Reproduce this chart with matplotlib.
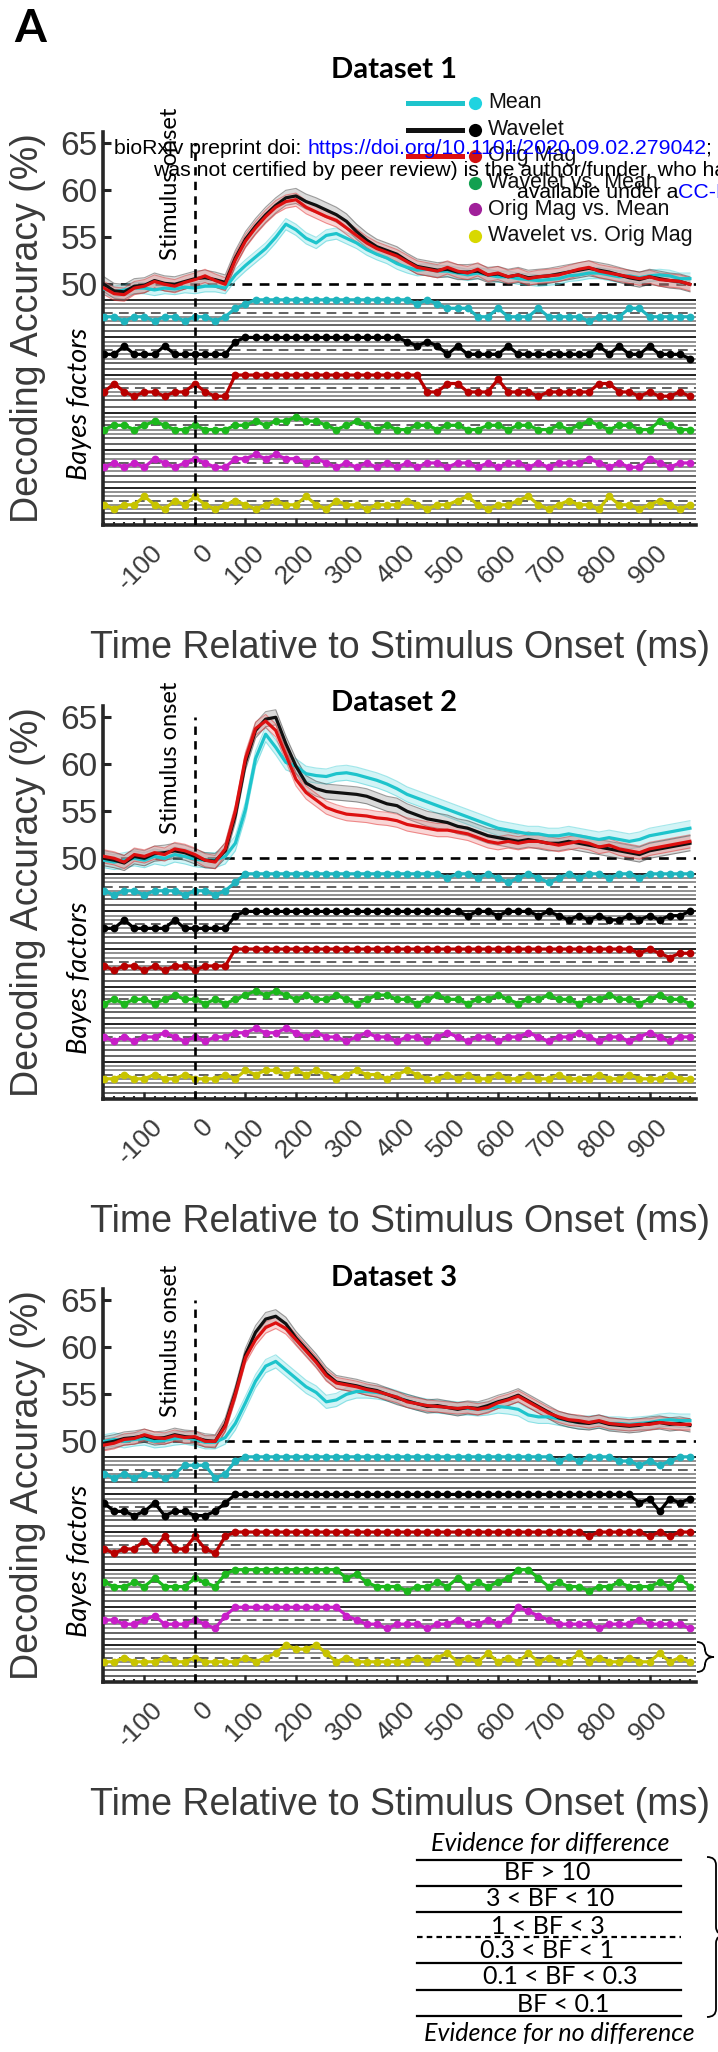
import numpy as np
import matplotlib
matplotlib.use('Agg')
import matplotlib.pyplot as plt
import matplotlib.transforms as mtransforms
from matplotlib.lines import Line2D
from matplotlib.path import Path
from matplotlib.patches import PathPatch

plt.rcParams['font.family'] = ['Liberation Sans', 'DejaVu Sans']
plt.rcParams['lines.scale_dashes'] = False

# ---------------- data ----------------
time_ms = np.arange(-180, 981, 20)          # 59 time points
xtick_vals = list(range(-100, 901, 100))
xtick_labels = [str(v) for v in xtick_vals]
ytick_vals = [50, 55, 60, 65]
titles = ['Dataset 1', 'Dataset 2', 'Dataset 3']
series_names = ['Mean', 'Wavelet', 'Orig Mag']
bf_names = ['Mean', 'Wavelet', 'Orig Mag', 'Wavelet vs. Mean', 'Orig Mag vs. Mean', 'Wavelet vs. Orig Mag']

# Dataset 1 decoding accuracy (%)
d1_mean = [49.5, 49.2, 49.4, 49.6, 49.6, 49.4, 49.6, 49.5, 49.7, 49.6,
           49.8, 49.8, 49.6, 51.0, 52.0, 52.9, 53.8, 55.0, 56.4, 55.8,
           54.9, 54.4, 55.2, 55.4, 54.9, 54.4, 53.7, 53.2, 52.8, 52.2,
           51.8, 51.5, 51.6, 51.4, 51.4, 51.2, 51.0, 51.2, 51.0, 50.8,
           50.8, 50.6, 50.5, 50.4, 50.5, 50.6, 50.9, 51.0, 51.2, 51.2,
           51.0, 50.8, 50.9, 50.7, 50.9, 51.0, 50.9, 50.6, 50.6]
d1_wavelet = [50.0, 49.3, 49.2, 49.8, 49.9, 50.4, 50.1, 50.0, 50.3, 50.6,
              50.7, 50.5, 50.2, 52.8, 54.8, 56.2, 57.4, 58.4, 59.2, 59.4,
              58.8, 58.4, 57.9, 57.4, 56.7, 55.6, 54.7, 54.0, 53.6, 53.2,
              52.5, 51.9, 51.7, 51.5, 51.6, 51.3, 51.3, 51.4, 51.0, 51.1,
              50.8, 51.0, 50.7, 50.8, 50.9, 51.1, 51.3, 51.5, 51.7, 51.5,
              51.3, 51.0, 50.7, 50.5, 50.8, 50.6, 50.4, 50.3, 50.0]
d1_origmag = [49.6, 49.0, 48.9, 49.6, 49.8, 50.3, 50.0, 49.8, 50.2, 50.5,
              50.9, 50.4, 50.0, 52.6, 54.6, 56.0, 57.2, 58.2, 58.8, 59.0,
              58.2, 57.7, 57.2, 56.8, 56.0, 55.2, 54.4, 53.8, 53.4, 53.0,
              52.4, 51.8, 51.6, 51.4, 51.8, 51.4, 51.2, 51.6, 51.0, 51.2,
              50.8, 51.0, 50.6, 50.8, 50.9, 51.0, 51.3, 51.6, 51.8, 51.4,
              51.2, 51.0, 50.8, 50.6, 50.8, 50.5, 50.4, 50.3, 50.0]
d1_sem = [0.6, 0.8, 0.7]

# Dataset 2
d2_mean = [49.8, 49.6, 49.8, 50.0, 49.8, 50.2, 50.0, 50.4, 50.2, 49.9,
           49.8, 49.8, 50.2, 51.6, 55.2, 60.6, 63.2, 61.8, 60.2, 59.8,
           59.0, 58.8, 58.7, 59.0, 59.1, 58.9, 58.6, 58.3, 57.9, 57.4,
           56.8, 56.4, 56.0, 55.6, 55.2, 54.8, 54.4, 54.0, 53.6, 53.2,
           53.0, 52.8, 52.6, 52.6, 52.4, 52.4, 52.6, 52.4, 52.2, 52.0,
           52.2, 52.0, 51.8, 52.0, 52.4, 52.6, 52.8, 53.0, 53.2]
d2_wavelet = [50.0, 49.8, 49.5, 50.2, 50.0, 50.5, 50.6, 50.8, 50.6, 50.2,
              49.8, 49.7, 50.8, 54.6, 60.2, 63.6, 64.8, 65.0, 62.2, 59.8,
              58.0, 57.4, 57.1, 57.0, 56.9, 56.8, 56.6, 56.2, 55.8, 55.6,
              55.0, 54.6, 54.2, 54.0, 53.8, 53.4, 53.2, 52.8, 52.4, 52.2,
              52.0, 51.8, 52.0, 51.8, 51.6, 51.6, 51.8, 51.6, 51.4, 51.2,
              51.0, 50.8, 50.6, 50.4, 50.8, 51.0, 51.2, 51.4, 51.6]
d2_origmag = [50.2, 50.0, 49.6, 50.4, 50.2, 50.6, 50.4, 51.0, 50.8, 50.4,
              49.8, 49.6, 51.0, 55.0, 60.6, 63.8, 64.6, 63.6, 61.0, 58.4,
              57.0, 56.2, 55.4, 55.0, 54.7, 54.6, 54.5, 54.3, 54.2, 54.0,
              53.6, 53.4, 53.2, 53.0, 53.0, 52.8, 52.6, 52.2, 51.8, 51.6,
              51.8, 51.6, 51.8, 51.8, 51.6, 51.4, 51.6, 51.8, 51.6, 51.2,
              51.4, 51.0, 50.8, 50.6, 51.0, 51.2, 51.4, 51.6, 51.8]
d2_sem = [0.8, 0.8, 0.7]

# Dataset 3
d3_mean = [50.0, 50.2, 50.0, 50.2, 50.3, 50.0, 50.1, 50.3, 50.4, 50.2,
           49.9, 49.9, 50.4, 51.9, 54.1, 56.4, 58.0, 58.5, 57.6, 56.7,
           55.8, 55.2, 54.2, 54.4, 55.0, 55.3, 55.3, 55.2, 55.0, 54.7,
           54.3, 54.0, 53.8, 53.7, 53.6, 53.5, 53.5, 53.4, 53.5, 53.7,
           53.6, 53.4, 52.8, 52.6, 52.6, 52.4, 52.2, 52.0, 52.0, 52.1,
           51.9, 51.9, 51.8, 51.9, 52.0, 52.2, 52.3, 52.2, 52.2]
d3_wavelet = [49.8, 50.0, 50.3, 50.4, 50.6, 50.3, 50.4, 50.7, 50.5, 50.4,
              50.1, 50.0, 51.8, 55.2, 59.2, 61.6, 63.0, 63.3, 62.5, 61.0,
              59.8, 58.6, 57.2, 56.3, 56.1, 55.9, 55.6, 55.4, 55.0, 54.6,
              54.3, 54.0, 53.7, 53.8, 53.6, 53.4, 53.6, 53.5, 53.8, 54.2,
              54.5, 54.9, 54.3, 53.7, 53.1, 52.5, 52.2, 52.0, 51.9, 52.1,
              51.8, 51.7, 51.6, 51.7, 51.9, 52.0, 51.8, 51.9, 51.7]
d3_origmag = [49.6, 49.8, 50.2, 50.3, 50.7, 50.4, 50.3, 50.6, 50.4, 50.5,
              50.0, 50.0, 51.6, 55.0, 58.9, 60.8, 62.1, 62.6, 62.0, 60.8,
              59.6, 58.4, 57.0, 56.2, 56.0, 55.8, 55.5, 55.3, 55.0, 54.7,
              54.2, 54.0, 53.8, 53.7, 53.6, 53.5, 53.6, 53.4, 53.6, 54.1,
              54.4, 54.8, 54.2, 53.6, 53.0, 52.6, 52.3, 52.2, 52.0, 52.2,
              51.9, 51.8, 51.7, 51.8, 51.8, 52.0, 51.9, 51.8, 51.8]
d3_sem = [0.7, 0.7, 0.6]

# Bayes factor evidence levels (3: BF>10, 2: 3<BF<10, 1: 1<BF<3, 0: ~1,
# -1: 0.3<BF<1, -2: 0.1<BF<0.3, -3: BF<0.1)
d1_bf_mean = [-1, -1, -2, -1, -1, -2, -1, -1, -2, -1,
              -1, -2, -1, 1, 2, 3, 3, 3, 3, 3,
              3, 3, 3, 3, 3, 3, 3, 3, 3, 3,
              3, 2, 3, 2, 1, 1, 1, -1, -1, 1,
              -1, -1, -1, 1, -1, -1, -1, -1, -2, -1,
              -1, -1, 1, 1, -1, -1, -1, -1, -1]
d1_bf_wavelet = [-1, -1, 1, -1, -1, -1, 1, -1, -1, -1,
                 -1, -1, -1, 2, 3, 3, 3, 3, 3, 3,
                 3, 3, 3, 3, 3, 3, 3, 3, 3, 3,
                 2, 1, 2, 1, -1, 1, -1, -1, -1, -1,
                 1, -1, -1, -1, -1, -1, -1, -1, -1, 1,
                 -1, 1, -1, -1, 1, -1, -1, -1, -2]
d1_bf_origmag = [-1, 1, -1, -2, -1, -1, -2, -1, -1, 1,
                 -1, -2, -2, 3, 3, 3, 3, 3, 3, 3,
                 3, 3, 3, 3, 3, 3, 3, 3, 3, 3,
                 3, 3, -1, -1, 1, 1, -1, -1, -1, 2,
                 -1, -1, -1, -2, -1, -1, -1, -1, -1, 1,
                 1, -1, -1, -2, -1, -2, -2, -1, -2]
d1_bf_wav_vs_mean = [-1, 0, 0, -1, 0, 1, 0, -1, -1, 0,
                     -1, -1, -1, 0, 0, 1, 0, 1, 1, 2,
                     1, 1, 0, -1, 0, 1, 0, -1, 0, -1,
                     -1, 0, 0, -1, 0, 0, -1, -1, 0, 0,
                     -1, 0, 0, -1, -1, 0, -1, 0, 1, 0,
                     -1, 0, 0, -1, -1, 1, 0, -1, -1]
d1_bf_orig_vs_mean = [-1, 0, -1, 0, -1, 1, 0, -1, 0, 1,
                      0, -1, -1, 1, 1, 2, 1, 2, 1, 1,
                      0, 1, 0, -1, 0, -1, 0, -1, 0, -1,
                      0, -1, 0, 0, -1, 0, 0, -1, 0, -1,
                      0, 0, -1, 0, -1, 0, 0, 0, 1, 0,
                      -1, 0, -1, -1, 1, 0, -1, 0, 0]
d1_bf_wav_vs_orig = [-1, -2, -1, -1, 1, -1, -2, 0, -1, 1,
                     -1, -2, -1, 0, -1, -2, -1, 0, -1, -1,
                     1, -1, -2, 0, -1, -1, -2, -1, -1, -1,
                     0, -1, -2, -1, -1, 0, 1, -1, -2, -1,
                     -1, 0, 1, -1, -2, -1, 0, -1, -1, -2,
                     1, -1, -1, -2, -1, 0, -1, -2, -1]

d2_bf_mean = [-1, -2, -1, -1, -2, -1, -1, -1, -2, -1,
              -1, -2, -1, 1, 3, 3, 3, 3, 3, 3,
              3, 3, 3, 3, 3, 3, 3, 3, 3, 3,
              3, 3, 3, 3, 2, 3, 3, 2, 3, 2,
              1, 2, 3, 2, 1, 2, 3, 2, 3, 3,
              2, 3, 3, 2, 3, 3, 3, 3, 3]
d2_bf_wavelet = [-1, -1, 1, -1, -1, -1, -1, 1, -1, -1,
                 -1, -1, -1, 2, 3, 3, 3, 3, 3, 3,
                 3, 3, 3, 3, 3, 3, 3, 3, 3, 3,
                 3, 3, 3, 3, 3, 3, 2, 3, 3, 2,
                 3, 3, 3, 2, 3, 2, 1, 2, 1, 2,
                 1, 1, 2, 1, 2, 1, 2, 2, 3]
d2_bf_origmag = [-1, -2, -1, -1, -2, -1, -2, -1, -1, -2,
                 -1, -1, -1, 3, 3, 3, 3, 3, 3, 3,
                 3, 3, 3, 3, 3, 3, 3, 3, 3, 3,
                 3, 3, 3, 3, 3, 3, 3, 3, 3, 3,
                 3, 3, 3, 3, 3, 3, 3, 3, 3, 3,
                 3, 3, 3, 2, 3, 2, 1, 2, 2]
d2_bf_wav_vs_mean = [-1, 0, -1, 0, 0, -1, 0, 1, 0, 0,
                     -1, 0, -1, 0, 1, 2, 1, 2, 1, 0,
                     1, 0, 0, 1, 0, -1, 0, 1, 1, 0,
                     0, -1, 0, 1, 0, 0, -1, 0, 0, 1,
                     0, -1, 0, 0, 1, 0, 0, -1, 0, 0,
                     1, 0, 0, -1, 0, 1, 0, 0, -1]
d2_bf_orig_vs_mean = [0, -1, 0, -1, 0, 0, 1, 0, -1, 0,
                      -1, 0, 0, 1, 1, 2, 1, 1, 2, 1,
                      0, 1, 0, 0, -1, 0, 1, 0, 0, -1,
                      0, 0, -1, 0, 1, 0, -1, 0, 0, -1,
                      0, 0, 1, 0, -1, 0, 0, 1, 0, -1,
                      0, 0, -1, 0, 1, 0, -1, 0, 0]
d2_bf_wav_vs_orig = [-1, -1, 0, -1, -1, 0, -1, -1, 0, -1,
                     -1, -1, 0, -1, 1, 0, 1, 1, 0, 1,
                     0, 1, 0, -1, 0, 1, 0, 0, -1, 0,
                     1, 0, -1, -1, 0, -1, 0, -1, -1, 0,
                     -1, -1, 0, -1, -1, 0, -1, -1, -1, 0,
                     -1, -1, 0, -1, -1, -1, 0, -1, -1]

d3_bf_mean = [-1, -2, -1, -2, -1, -1, -2, -1, 1, 1,
              1, -2, -1, 2, 3, 3, 3, 3, 3, 3,
              3, 3, 3, 3, 3, 3, 3, 3, 3, 3,
              3, 3, 3, 3, 3, 3, 3, 3, 3, 3,
              3, 3, 3, 3, 3, 2, 3, 2, 3, 3,
              3, 2, 2, 1, 2, 1, 2, 3, 3]
d3_bf_wavelet = [1, -1, -1, -2, -1, 1, -2, -1, -1, -2,
                 -2, -1, 1, 3, 3, 3, 3, 3, 3, 3,
                 3, 3, 3, 3, 3, 3, 3, 3, 3, 3,
                 3, 3, 3, 3, 3, 3, 3, 3, 3, 3,
                 3, 3, 3, 3, 3, 3, 3, 3, 3, 3,
                 3, 3, 3, 1, 2, -1, 2, 1, 2]
d3_bf_origmag = [-1, -2, -1, -1, 1, -1, 2, -1, -1, 2,
                 -1, -2, 2, 3, 3, 3, 3, 3, 3, 3,
                 3, 3, 3, 3, 3, 3, 3, 3, 3, 3,
                 3, 3, 3, 3, 3, 3, 3, 3, 3, 3,
                 3, 3, 3, 3, 3, 3, 3, 3, 2, 3,
                 3, 3, 3, 3, 2, 3, 2, 3, 3]
d3_bf_wav_vs_mean = [0, -1, -1, 0, -1, 1, -1, -1, -1, 1,
                     0, -1, 2, 3, 3, 3, 3, 3, 3, 3,
                     3, 3, 3, 3, 1, 2, 0, -1, -1, -1,
                     -2, -1, -1, 0, -1, 1, -1, 0, -1, 0,
                     1, 3, 3, 1, -1, 0, -1, -1, -2, -1,
                     -1, 0, -1, -1, -1, 0, -1, 1, -1]
d3_bf_orig_vs_mean = [0, 0, -1, -1, 0, 1, -1, -1, -1, 0,
                      -1, -2, 1, 3, 3, 3, 3, 3, 3, 3,
                      3, 3, 3, 3, 1, 0, -1, -1, -2, -1,
                      -1, -1, -2, -1, -1, 0, -1, -1, 0, -1,
                      0, 3, 2, 1, 0, -1, -1, -1, -1, -2,
                      -1, -1, -1, 0, -1, -1, -1, -1, -2]
d3_bf_wav_vs_orig = [-1, -1, 0, -1, -1, -1, 0, -1, -1, 0,
                     -1, -1, -1, -1, 0, -1, 0, 1, 3, 2,
                     2, 3, 1, -1, 0, -1, -1, -1, -1, -1,
                     -1, 0, -1, 0, 1, -1, 0, -1, 1, -1,
                     0, -1, 1, -1, 0, -1, -1, 1, -1, 0,
                     -1, -1, 0, -1, -1, 1, -1, 0, -1]

legend_rows = ['BF > 10', '3 < BF < 10', '1 < BF < 3', '0.3 < BF < 1', '0.1 < BF < 0.3', 'BF < 0.1']

# ---------------- styling ----------------
W, H = 718, 2052
fig = plt.figure(figsize=(W / 100, H / 100), dpi=100)
fig.patch.set_facecolor('white')


def fx(x):
    return x / W


def fy(y):
    return 1 - y / H


CAL = ['Lato', 'DejaVu Sans']
GRAY_TXT = '#3a3a3a'
SPINE = '#262626'
line_cols = ['#1ec4cc', '#111111', '#dd1010']
fill_cols = ['#7fe0e6', '#9a9a9a', '#f08a8a']
bf_cols = ['#1fb4be', '#000000', '#b80000', '#1cb81c', '#c81ec8', '#c8c400']
leg_dot_cols = ['#1fd3e0', '#000000', '#d01010', '#12a050', '#a0209a', '#d8d800']

panel_bottom = [525, 1099, 1682]
title_y = [70, 703, 1278]
AX_L, AX_W, AX_H = 103, 593, 393
YMIN, YMAX = 24.4, 66.2
XMIN, XMAX = -182, 992
group_centers = [47, 43, 39, 35, 31, 27]
STEP = 0.45

datasets = [
    ([d1_mean, d1_wavelet, d1_origmag], d1_sem,
     [d1_bf_mean, d1_bf_wavelet, d1_bf_origmag, d1_bf_wav_vs_mean, d1_bf_orig_vs_mean, d1_bf_wav_vs_orig]),
    ([d2_mean, d2_wavelet, d2_origmag], d2_sem,
     [d2_bf_mean, d2_bf_wavelet, d2_bf_origmag, d2_bf_wav_vs_mean, d2_bf_orig_vs_mean, d2_bf_wav_vs_orig]),
    ([d3_mean, d3_wavelet, d3_origmag], d3_sem,
     [d3_bf_mean, d3_bf_wavelet, d3_bf_origmag, d3_bf_wav_vs_mean, d3_bf_orig_vs_mean, d3_bf_wav_vs_orig]),
]

label_shift = mtransforms.ScaledTranslation(6 / 100, 0, fig.dpi_scale_trans)

for p, (curves, sems, bfs) in enumerate(datasets):
    bottom = panel_bottom[p]
    ax = fig.add_axes([fx(AX_L), fy(bottom), AX_W / W, AX_H / H])
    ax.set_xlim(XMIN, XMAX)
    ax.set_ylim(YMIN, YMAX)
    ax.set_facecolor('none')
    for s in ['top', 'right']:
        ax.spines[s].set_visible(False)
    for s in ['left', 'bottom']:
        ax.spines[s].set_linewidth(2.6)
        ax.spines[s].set_color(SPINE)

    # Bayes-factor background lines
    for c in group_centers:
        for off in [1.35, 0.9, 0.45, -0.45, -0.9, -1.35, -2.0]:
            col = '#1a1a1a' if off == 1.35 else ('#5e5e5e' if off in (-1.35, -2.0) else '#8c8c8c')
            ax.hlines(c + off, XMIN, XMAX, colors=col, lw=1.35, zorder=1)
        ax.hlines(c, XMIN, XMAX, colors='#555555', lw=1.3, linestyles=(0, (7, 4.5)), zorder=1)

    # chance & onset lines
    ax.hlines(50, XMIN, XMAX, colors='k', lw=1.9, linestyles=(0, (7, 5.5)), zorder=2)
    ax.vlines(0, YMIN, 65, colors='k', lw=1.9, linestyles=(0, (6, 4.5)), zorder=6)

    # decoding curves
    for k in range(3):
        y = np.array(curves[k])
        s = sems[k]
        ax.fill_between(time_ms, y - s, y + s, color=fill_cols[k], alpha=0.35, lw=0, zorder=2)
        ax.plot(time_ms, y + s, color=line_cols[k], alpha=0.4, lw=0.8, zorder=2)
        ax.plot(time_ms, y - s, color=line_cols[k], alpha=0.4, lw=0.8, zorder=2)
        ax.plot(time_ms, y, color=line_cols[k], lw=2.3, zorder=3)

    # Bayes factor dots
    for g in range(6):
        yb = group_centers[g] + np.array(bfs[g]) * STEP
        ax.plot(time_ms, yb, '-o', color=bf_cols[g], lw=2.3, ms=5.6, mew=0, zorder=4)

    # ticks
    ax.set_yticks(ytick_vals)
    ax.tick_params(axis='y', direction='in', length=5.5, width=2.2, color=SPINE,
                   labelsize=24, labelcolor=GRAY_TXT, pad=4)
    ax.set_xticks(xtick_vals)
    ax.set_xticklabels(xtick_labels)
    ax.set_xticks(time_ms, minor=True)
    ax.tick_params(axis='x', which='major', direction='in', length=5, width=1.8, color=SPINE,
                   labelsize=19, labelcolor=GRAY_TXT, pad=11)
    ax.tick_params(axis='x', which='minor', direction='in', length=2.5, width=1.5, color=SPINE)
    for lab in ax.get_xticklabels():
        lab.set_rotation(45)
        lab.set_ha('right')
        lab.set_va('top')
        lab.set_rotation_mode('anchor')
        lab.set_transform(lab.get_transform() + label_shift)

    ax.text(-47.5, 52.6, 'Stimulus onset', rotation=90, ha='center', va='bottom',
            fontsize=17, family=CAL, zorder=7)

    fig.text(fx(28), fy(bottom - AX_H / 2), 'Decoding Accuracy (%)', rotation=90,
             ha='center', va='center', fontsize=27, color=GRAY_TXT)
    fig.text(fx(79), fy(bottom - 121), 'Bayes factors', rotation=90, ha='center',
             va='center', fontsize=19.5, style='italic', family=CAL)
    fig.text(fx(400), fy(bottom + 123), 'Time Relative to Stimulus Onset (ms)',
             ha='center', va='center', fontsize=27, color=GRAY_TXT)
    fig.text(fx(394), fy(title_y[p]), titles[p], ha='center', va='center',
             fontsize=21, weight='bold', family=CAL)

# panel letter
fig.text(fx(14), fy(8), 'A', fontsize=33, weight='bold', family=CAL, va='top', ha='left')

# legend (panel 1)
leg_y = [103, 129.5, 156, 182.5, 209, 235.5]
for i, name in enumerate(bf_names):
    y = leg_y[i]
    if i < 3:
        fig.add_artist(Line2D([fx(408), fx(462)], [fy(y), fy(y)], color=line_cols[i], lw=3.6,
                              transform=fig.transFigure))
    fig.add_artist(Line2D([fx(475)], [fy(y)], marker='o', ms=9.5, color=leg_dot_cols[i], mew=0,
                          ls='none', transform=fig.transFigure))
    fig.text(fx(488), fy(y), name, va='center', ha='left', fontsize=15.5, color='#111111')

# bioRxiv watermark
renderer = fig.canvas.get_renderer()


def measure(s, **kw):
    t = fig.text(0, 0, s, **kw)
    w = t.get_window_extent(renderer=renderer).width
    t.remove()
    return w


WM = dict(fontsize=15.3)
l1a = 'bioRxiv preprint doi: '
l1b = 'https://doi.org/10.1101/2020.09.02.279042'
l1c = '; this version posted September 3, 2020. The copyright holder for this preprint (which'
x0 = 114
fig.text(fx(x0), fy(149), l1a, va='center', ha='left', color='k', zorder=20, **WM)
xb = x0 + measure(l1a + l1b, **WM) - measure(l1b, **WM)
fig.text(fx(xb), fy(149), l1b, va='center', ha='left', color='#0000ff', zorder=20, **WM)
xc = x0 + measure(l1a + l1b + l1c, **WM) - measure(l1c, **WM)
fig.text(fx(xc), fy(149), l1c, va='center', ha='left', color='k', zorder=20, **WM)
fig.text(fx(153), fy(171), 'was not certified by peer review) is the author/funder, who has granted bioRxiv a license to display the preprint in perpetuity. It is made',
         va='center', ha='left', color='k', zorder=20, **WM)
l3a = 'available under a'
l3b = 'CC-BY-NC-ND 4.0 International license'
x3 = 517
fig.text(fx(x3), fy(193), l3a, va='center', ha='left', color='k', zorder=20, **WM)
x3b = x3 + measure(l3a + l3b, **WM) - measure(l3b, **WM)
fig.text(fx(x3b), fy(193), l3b, va='center', ha='left', color='#0000ff', zorder=20, **WM)

# evidence legend table
table_lines = [1860, 1886, 1912, 1937, 1963, 1990, 2016]
for j, yl in enumerate(table_lines):
    ls = (0, (4, 3)) if j == 3 else '-'
    fig.add_artist(Line2D([fx(417), fx(681)], [fy(yl), fy(yl)], color='k', lw=1.6, ls=ls,
                          transform=fig.transFigure))
row_x = [547, 550, 548, 547, 560, 563]
row_y = [1872, 1898, 1926, 1951, 1977, 2005]
for j, lab in enumerate(legend_rows):
    fig.text(fx(row_x[j]), fy(row_y[j]), lab, ha='center', va='center', fontsize=18, family=CAL)
fig.text(fx(550), fy(1844), 'Evidence for difference', ha='center', va='center', fontsize=18,
         style='italic', family=CAL)
fig.text(fx(559), fy(2034), 'Evidence for no difference', ha='center', va='center', fontsize=18,
         style='italic', family=CAL)


# braces
def brace(x0, x1, xc, y0, y1, ym):
    verts = [(x0, y0), (x1, y0), (x1, y0 + 8), (x1, ym - 8), (x1, ym), (xc, ym),
             (x1, ym), (x1, ym + 8), (x1, y1 - 8), (x1, y1), (x0, y1)]
    codes = [Path.MOVETO, Path.CURVE3, Path.CURVE3, Path.LINETO, Path.CURVE3, Path.CURVE3,
             Path.CURVE3, Path.CURVE3, Path.LINETO, Path.CURVE3, Path.CURVE3]
    verts = [(fx(a), fy(b)) for a, b in verts]
    fig.add_artist(PathPatch(Path(verts, codes), fill=False, lw=1.3, color='k',
                             transform=fig.transFigure))


brace(697, 705, 714, 1642, 1672, 1657)
brace(707, 716, 726, 1857, 2017, 1935)

fig.savefig('out.png', dpi=100)
